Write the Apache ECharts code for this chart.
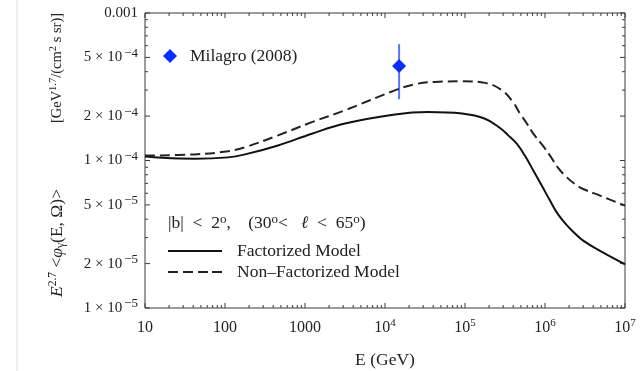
<!DOCTYPE html>
<html><head><meta charset="utf-8">
<script src="https://cdn.jsdelivr.net/npm/echarts@6/dist/echarts.min.js"></script>
<style>html,body{margin:0;padding:0;background:#fff}#c{width:640px;height:371px}</style>
</head><body><div id="c"></div>
<script>
// ---- data ----
const factorizedE = [10, 16.3, 42, 109, 178, 460, 1220, 3160, 13300, 34500, 91700, 178000, 274000, 347000, 443000, 560000, 714000, 910000, 1.155e6, 1.45e6, 1.87e6, 2.37e6, 3.0e6, 4.87e6, 1e7];
const factorizedY = [1.064e-4, 1.042e-4, 1.028e-4, 1.05e-4, 1.1e-4, 1.265e-4, 1.52e-4, 1.78e-4, 2.05e-4, 2.13e-4, 2.08e-4, 1.92e-4, 1.66e-4, 1.48e-4, 1.3e-4, 1.08e-4, 8.55e-5, 6.76e-5, 5.35e-5, 4.33e-5, 3.65e-5, 3.2e-5, 2.86e-5, 2.44e-5, 1.98e-5];
const nonFactE    = [10, 42, 109, 178, 460, 1220, 3160, 13300, 23700, 42200, 91700, 178000, 290000, 398000, 487000, 590000, 714000, 910000, 1.155e6, 1.45e6, 1.87e6, 2.37e6, 3.0e6, 4.87e6, 1e7];
const nonFactY    = [1.08e-4, 1.1e-4, 1.156e-4, 1.23e-4, 1.48e-4, 1.82e-4, 2.19e-4, 2.99e-4, 3.29e-4, 3.41e-4, 3.44e-4, 3.36e-4, 2.99e-4, 2.49e-4, 2.08e-4, 1.79e-4, 1.52e-4, 1.29e-4, 1.08e-4, 8.95e-5, 7.7e-5, 6.92e-5, 6.41e-5, 5.78e-5, 4.94e-5];
const milagroE    = [1.5e4];
const milagroY    = [4.38e-4];
const milagroLo   = [2.6e-4];
const milagroHi   = [6.15e-4];
const xRange      = [10, 1e7];
const yRange      = [1e-5, 1e-3];
const xTickValues = [10, 100, 1000, 1e4, 1e5, 1e6, 1e7];
const xTickLabels = ['10', '100', '1000', '10{sup|4}', '10{sup|5}', '10{sup|6}', '10{sup|7}'];
const yTickValues = [1e-5, 2e-5, 5e-5, 1e-4, 2e-4, 5e-4, 1e-3];
const yTickLabels = ['1 × 10{sup|−5}', '2 × 10{sup|−5}', '5 × 10{sup|−5}', '1 × 10{sup|−4}', '2 × 10{sup|−4}', '5 × 10{sup|−4}', '0.001'];
const yAxisTitleA = '{i|E}{sup|2.7} <{i|φ}{sub|γ}(E, Ω)>';
const yAxisTitleB = '[GeV{sup|1.7}/(cm{sup|2} s sr)]';
const regionText  = '|b|  <  2{sup|o},    (30{sup|o}<   {i|ℓ}  <  65{sup|o})';

// tick positions (major = labelled, minor = the rest of 1..9 per decade)
const xMajorTicks = xTickValues.slice();
const xMinorTicks = [];
for (let d = 10; d < 1e7; d *= 10) for (let m = 2; m <= 9; m++) xMinorTicks.push(m * d);
const yMajorTicks = yTickValues.slice();
const yMinorTicks = [];
for (let d = 1e-5; d < 1e-3 * 0.99; d *= 10) for (let m of [3, 4, 6, 7, 8, 9]) yMinorTicks.push(m * d);

const FONT = '"Liberation Serif", "DejaVu Serif", serif';
const TXT = '#222';
const FRAME = '#3a3a3a';

function labelFor(values, labels, pad) {
  return v => {
    const i = values.findIndex(t => Math.abs(Math.log10(t) - Math.log10(v)) < 1e-6);
    if (i < 0) return '';
    const s = labels[i];
    return (pad && s.indexOf('{sup|') < 0) ? s + '{sup|\u200b}' : s;
  };
}

const chart = echarts.init(document.getElementById('c'));
chart.setOption({
  animation: false,
  backgroundColor: '#fff',
  grid: { left: 145, right: 15, top: 13, bottom: 63, outerBoundsMode: 'none', containLabel: false,
          show: true, borderColor: FRAME, borderWidth: 1, backgroundColor: 'transparent' },
  xAxis: {
    type: 'log', logBase: 10, min: xRange[0], max: xRange[1],
    axisLine: { show: false }, axisTick: { show: false }, splitLine: { show: false },
    axisLabel: {
      customValues: xTickValues, margin: 10, fontFamily: FONT, fontSize: 16, color: TXT,
      formatter: labelFor(xTickValues, xTickLabels, true),
      rich: { sup: { fontSize: 11, verticalAlign: 'bottom', padding: [0, 0, 9, 0], fontFamily: FONT, color: TXT } }
    },
    name: 'E (GeV)', nameLocation: 'middle', nameGap: 43,
    nameTextStyle: { fontFamily: FONT, fontSize: 17.5, color: TXT }
  },
  yAxis: {
    type: 'log', logBase: 10, min: yRange[0], max: yRange[1],
    axisLine: { show: false }, axisTick: { show: false }, splitLine: { show: false },
    axisLabel: {
      customValues: yTickValues, margin: 7, fontFamily: FONT, fontSize: 15, color: TXT,
      formatter: labelFor(yTickValues, yTickLabels, false),
      rich: { sup: { fontSize: 13, verticalAlign: 'bottom', padding: [0, 0, 8, 2], fontFamily: FONT, color: TXT } }
    }
  },
  legend: [
    { data: ['Milagro (2008)'], left: 163, top: 47, padding: 0, itemWidth: 14, itemHeight: 14,
      textStyle: { fontFamily: FONT, fontSize: 17.5, color: TXT, padding: [0, 0, 0, 8] } },
    { data: [
        { name: 'Factorized Model', icon: 'path://M0,0h54v2h-54z' },
        { name: 'Non\u2013Factorized Model', icon: 'path://M0,0h10v2h-10zM15,0h10v2h-10zM30,0h10v2h-10zM44,0h10v2h-10z' }
      ],
      left: 168, top: 242, padding: 0, orient: 'vertical', itemWidth: 54, itemHeight: 2, itemGap: 3,
      textStyle: { fontFamily: FONT, fontSize: 17.5, color: TXT, padding: [0, 0, 0, 10] } }
  ],
  graphic: [
    { type: 'line', shape: { x1: 17, y1: 0, x2: 17, y2: 371 }, style: { stroke: '#dcdcdc', lineWidth: 1 }, silent: true },
    { type: 'text', x: 57, y: 243, rotation: Math.PI / 2, style: {
        text: yAxisTitleA, font: '17.5px ' + FONT, fill: TXT, align: 'center', verticalAlign: 'middle',
        rich: {
          i: { fontStyle: 'italic', fontSize: 17.5, fontFamily: FONT, fill: TXT },
          sup: { fontSize: 11.5, verticalAlign: 'bottom', padding: [0, 0, 8, 0], fontFamily: FONT, fill: TXT },
          sub: { fontSize: 11.5, verticalAlign: 'top', padding: [8, 0, 0, 0], fontFamily: FONT, fill: TXT }
        } } },
    { type: 'text', x: 57, y: 68, rotation: Math.PI / 2, style: {
        text: yAxisTitleB, font: '14.5px ' + FONT, fill: TXT, align: 'center', verticalAlign: 'middle',
        rich: {
          sup: { fontSize: 10.5, verticalAlign: 'bottom', padding: [0, 0, 7, 0], fontFamily: FONT, fill: TXT }
        } } },
    { type: 'text', left: 168, top: 213, style: {
        text: regionText, font: '17.5px ' + FONT, fill: TXT,
        rich: { sup: { fontSize: 13, verticalAlign: 'bottom', padding: [0, 0, 8, 0], fontFamily: FONT, fill: TXT },
                i: { fontStyle: 'italic', fontSize: 17.5, fontFamily: FONT, fill: TXT } }
    } }
  ],
  series: [
    { name: 'Factorized Model', type: 'line', smooth: 0.4, showSymbol: false, symbol: 'none',
      data: factorizedE.map((e, i) => [e, factorizedY[i]]), lineStyle: { color: '#111', width: 2 }, itemStyle: { color: '#111' } },
    { name: 'Non\u2013Factorized Model', type: 'line', smooth: 0.4, showSymbol: false, symbol: 'none',
      data: nonFactE.map((e, i) => [e, nonFactY[i]]), lineStyle: { color: '#222', width: 2, type: [10, 5] }, itemStyle: { color: '#222' } },
    { name: 'Milagro error', type: 'custom',
      data: milagroE.map((e, i) => [e, milagroLo[i], milagroHi[i]]),
      renderItem: (params, api) => {
        const a = api.coord([api.value(0), api.value(1)]);
        const b = api.coord([api.value(0), api.value(2)]);
        return { type: 'line', shape: { x1: a[0], y1: a[1], x2: b[0], y2: b[1] }, style: { stroke: '#5a72ff', lineWidth: 2 } };
      }, z: 3 },
    { name: 'Milagro (2008)', type: 'scatter', symbol: 'diamond', symbolSize: 14,
      data: milagroE.map((e, i) => [e, milagroY[i]]), itemStyle: { color: '#0a2dff', opacity: 1 }, z: 4 },
    // frame ticks (inside), placed through the axes' scales
    { name: 'xticks', type: 'custom', silent: true, clip: false, z: 1,
      data: xMajorTicks.map(v => [v, 5]).concat(xMinorTicks.map(v => [v, 3])),
      renderItem: (params, api) => {
        const b = api.coord([api.value(0), yRange[0]]);
        const t = api.coord([api.value(0), yRange[1]]);
        const L = api.value(1);
        const st = { stroke: FRAME, lineWidth: 1 };
        return { type: 'group', children: [
          { type: 'line', shape: { x1: b[0], y1: b[1], x2: b[0], y2: b[1] - L }, style: st },
          { type: 'line', shape: { x1: t[0], y1: t[1], x2: t[0], y2: t[1] + L }, style: st }
        ] };
      } },
    { name: 'yticks', type: 'custom', silent: true, clip: false, z: 1,
      data: yMajorTicks.map(v => [v, 5]).concat(yMinorTicks.map(v => [v, 3])),
      renderItem: (params, api) => {
        const l = api.coord([xRange[0], api.value(0)]);
        const r = api.coord([xRange[1], api.value(0)]);
        const L = api.value(1);
        const st = { stroke: FRAME, lineWidth: 1 };
        return { type: 'group', children: [
          { type: 'line', shape: { x1: l[0], y1: l[1], x2: l[0] + L, y2: l[1] }, style: st },
          { type: 'line', shape: { x1: r[0], y1: r[1], x2: r[0] - L, y2: r[1] }, style: st }
        ] };
      },
      encode: { x: -1, y: 0 } }
  ]
});
</script></body></html>
